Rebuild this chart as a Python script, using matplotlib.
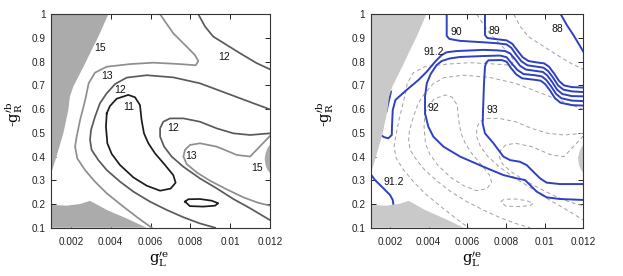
import matplotlib
matplotlib.use("Agg")
import matplotlib.pyplot as plt
from matplotlib.patches import Polygon

plt.rcParams['font.family'] = ['Liberation Sans', 'DejaVu Sans']
plt.rcParams['mathtext.fontset'] = 'dejavuserif'

# ---------------- data ----------------
x_ticks = [0.002, 0.004, 0.006, 0.008, 0.010, 0.012]
x_tick_labels = ['0.002', '0.004', '0.006', '0.008', '0.01', '0.012']
y_ticks = [0.1, 0.2, 0.3, 0.4, 0.5, 0.6, 0.7, 0.8, 0.9, 1.0]
y_tick_labels = ['0.1', '0.2', '0.3', '0.4', '0.5', '0.6', '0.7', '0.8', '0.9', '1']

# excluded regions
gray_tl_x = [0.001, 0.00388, 0.00338, 0.00304, 0.00263, 0.00212, 0.00195, 0.00187, 0.00162, 0.00137, 0.00112, 0.001]
gray_tl_y = [1.0, 1.0, 0.906, 0.849, 0.779, 0.695, 0.653, 0.596, 0.498, 0.427, 0.357, 0.329]
gray_bl_x = [0.001, 0.00179, 0.00246, 0.00296, 0.00313, 0.0038, 0.0048, 0.0058, 0.001]
gray_bl_y = [0.196, 0.193, 0.200, 0.213, 0.206, 0.175, 0.139, 0.100, 0.100]
gray_r_x = [0.012, 0.01188, 0.01178, 0.01173, 0.01178, 0.01188, 0.012]
gray_r_y = [0.450, 0.437, 0.415, 0.390, 0.362, 0.343, 0.330]

# chi^2 contours (left panel, dashed in right panel)
c11_loop_x = [0.00380, 0.00396, 0.00430, 0.00488, 0.00522, 0.00547, 0.00555, 0.00567, 0.00589, 0.00622, 0.00673,
              0.00714, 0.00726, 0.00701, 0.00648, 0.00581, 0.00514, 0.00447, 0.00405, 0.00383, 0.00376, 0.00380]
c11_loop_y = [0.582, 0.613, 0.644, 0.660, 0.650, 0.617, 0.554, 0.498, 0.456, 0.414, 0.364,
              0.322, 0.290, 0.265, 0.256, 0.277, 0.312, 0.364, 0.411, 0.456, 0.526, 0.582]
c11_small_x = [0.00773, 0.00790, 0.00848, 0.00907, 0.00940, 0.00924, 0.00865, 0.00798, 0.00773]
c11_small_y = [0.210, 0.220, 0.221, 0.214, 0.203, 0.193, 0.189, 0.191, 0.210]
c12_outer_x = [0.01200, 0.01116, 0.00982, 0.00848, 0.00714, 0.00581, 0.00480, 0.00422, 0.00380, 0.00346, 0.00321,
               0.00301, 0.00296, 0.00304, 0.00338, 0.00380, 0.00447, 0.00514, 0.00597, 0.00681, 0.00765, 0.00848, 0.00924]
c12_outer_y = [0.599, 0.625, 0.667, 0.709, 0.734, 0.743, 0.733, 0.706, 0.667, 0.625, 0.568,
               0.512, 0.470, 0.428, 0.385, 0.343, 0.294, 0.252, 0.210, 0.175, 0.144, 0.118, 0.100]
c13_outer_x = [0.00648, 0.00714, 0.00781, 0.00823, 0.00840, 0.00827, 0.00748, 0.00614, 0.00497, 0.00380, 0.00321,
               0.00289, 0.00272, 0.00246, 0.00229, 0.00221, 0.00232, 0.00271, 0.00321, 0.00380, 0.00463, 0.00547, 0.00606]
c13_outer_y = [1.000, 0.920, 0.864, 0.828, 0.803, 0.785, 0.790, 0.796, 0.790, 0.779, 0.754,
               0.709, 0.639, 0.554, 0.484, 0.442, 0.392, 0.343, 0.294, 0.245, 0.189, 0.135, 0.100]
c12_upper_x = [0.00840, 0.00874, 0.00915, 0.00982, 0.01049, 0.01133, 0.01200]
c12_upper_y = [1.000, 0.948, 0.906, 0.871, 0.836, 0.794, 0.768]
c12_inner_x = [0.01200, 0.01100, 0.01016, 0.00932, 0.00848, 0.00765, 0.00698, 0.00664, 0.00648, 0.00648,
               0.00668, 0.00706, 0.00765, 0.00848, 0.00932, 0.01016, 0.01100, 0.01158, 0.01200]
c12_inner_y = [0.498, 0.491, 0.498, 0.519, 0.547, 0.561, 0.561, 0.547, 0.519, 0.484,
               0.442, 0.400, 0.357, 0.308, 0.266, 0.221, 0.182, 0.153, 0.132]
c13_inner_x = [0.01200, 0.01100, 0.01033, 0.00932, 0.00848, 0.00798, 0.00773, 0.00765, 0.00781, 0.00832,
               0.00899, 0.00982, 0.01066, 0.01141, 0.01200]
c13_inner_y = [0.487, 0.400, 0.407, 0.442, 0.456, 0.449, 0.428, 0.400, 0.369, 0.333,
               0.298, 0.262, 0.228, 0.205, 0.193]

left_labels = ['15', '12', '13', '12', '11', '12', '13', '15']
left_label_x = [0.00346, 0.00969, 0.00380, 0.00447, 0.00488, 0.00711, 0.00803, 0.01133]
left_label_y = [0.857, 0.821, 0.740, 0.681, 0.610, 0.519, 0.402, 0.350]

# Z-pole observable contours (right panel)
b88_x = [0.01083, 0.01114, 0.01148, 0.01179, 0.01200]
b88_y = [1.000, 0.955, 0.913, 0.871, 0.842]
b89_x = [0.00691, 0.00691, 0.00703, 0.00752, 0.00803, 0.00833, 0.00859, 0.00886, 0.00916, 0.00959,
         0.00997, 0.01022, 0.01048, 0.01074, 0.01100, 0.01140, 0.01200]
b89_y = [1.000, 0.913, 0.900, 0.895, 0.890, 0.875, 0.847, 0.819, 0.803, 0.797,
         0.793, 0.779, 0.751, 0.719, 0.700, 0.693, 0.691]
b90_x = [0.00493, 0.00493, 0.00507, 0.00562, 0.00683, 0.00752, 0.00803, 0.00828, 0.00852, 0.00879,
         0.00910, 0.00959, 0.00993, 0.01017, 0.01043, 0.01069, 0.01097, 0.01140, 0.01200]
b90_y = [1.000, 0.909, 0.896, 0.888, 0.882, 0.878, 0.873, 0.858, 0.830, 0.802,
         0.785, 0.779, 0.775, 0.761, 0.733, 0.700, 0.682, 0.675, 0.672]
b912_up_x = [0.00152, 0.00169, 0.00191, 0.00209, 0.00210, 0.00214, 0.00228, 0.00286, 0.00347, 0.00390,
             0.00433, 0.00467, 0.00493, 0.00545, 0.00683, 0.00752, 0.00795, 0.00821, 0.00845, 0.00872,
             0.00903, 0.00955, 0.00990, 0.01012, 0.01038, 0.01064, 0.01091, 0.01140, 0.01200]
b912_up_y = [0.491, 0.482, 0.477, 0.491, 0.526, 0.596, 0.639, 0.681, 0.723, 0.758,
             0.800, 0.828, 0.840, 0.845, 0.850, 0.848, 0.845, 0.835, 0.812, 0.783,
             0.767, 0.761, 0.757, 0.743, 0.715, 0.682, 0.664, 0.655, 0.654]
b912_seg_x = [0.00181, 0.00205]
b912_seg_y = [0.589, 0.674]
b912_low_x = [0.00100, 0.00122, 0.00166, 0.00200, 0.00214, 0.00217]
b912_low_y = [0.326, 0.301, 0.266, 0.238, 0.217, 0.200]
b92_x = [0.01200, 0.01079, 0.01010, 0.00959, 0.00924, 0.00898, 0.00855, 0.00786, 0.00683, 0.00562,
         0.00476, 0.00424, 0.00398, 0.00381, 0.00381, 0.00390, 0.00410, 0.00441, 0.00467, 0.00510,
         0.00562, 0.00683, 0.00769, 0.00803, 0.00829, 0.00859, 0.00890, 0.00950, 0.00985, 0.01007,
         0.01033, 0.01059, 0.01086, 0.01140, 0.01200]
b92_y = [0.217, 0.221, 0.228, 0.252, 0.280, 0.301, 0.308, 0.322, 0.357, 0.400,
         0.442, 0.484, 0.526, 0.582, 0.653, 0.709, 0.748, 0.786, 0.803, 0.814,
         0.820, 0.824, 0.826, 0.819, 0.793, 0.765, 0.748, 0.743, 0.738, 0.724,
         0.696, 0.664, 0.646, 0.636, 0.634]
b93_x = [0.01200, 0.01079, 0.01010, 0.00976, 0.00941, 0.00907, 0.00872, 0.00821, 0.00786, 0.00735,
         0.00691, 0.00679, 0.00681, 0.00686, 0.00691, 0.00697, 0.00709, 0.00778, 0.00803, 0.00824,
         0.00852, 0.00883, 0.00945, 0.00979, 0.01002, 0.01028, 0.01053, 0.01081, 0.01140, 0.01200]
b93_y = [0.284, 0.284, 0.290, 0.308, 0.336, 0.364, 0.378, 0.385, 0.400, 0.456,
         0.498, 0.540, 0.596, 0.709, 0.779, 0.796, 0.806, 0.807, 0.800, 0.775,
         0.747, 0.730, 0.724, 0.720, 0.706, 0.678, 0.646, 0.627, 0.617, 0.615]

right_labels = ['90', '89', '88', '91.2', '92', '93', '91.2']
right_label_x = [0.00545, 0.00740, 0.01066, 0.00424, 0.00424, 0.00731, 0.00221]
right_label_y = [0.927, 0.931, 0.937, 0.842, 0.603, 0.596, 0.294]

# ---------------- drawing ----------------
fig = plt.figure(figsize=(6.23, 2.76), dpi=100)
axL = fig.add_axes([51 / 623, 48.3 / 276, 219 / 623, 213.4 / 276])
axR = fig.add_axes([370.7 / 623, 48.3 / 276, 212.7 / 623, 213.4 / 276])

c_black = '#1c1c1c'
c_dark = '#5a5a5a'
c_light = '#8e8e8e'

contours = [
    (c11_loop_x, c11_loop_y, c_black),
    (c11_small_x, c11_small_y, c_black),
    (c12_outer_x, c12_outer_y, c_dark),
    (c12_upper_x, c12_upper_y, c_dark),
    (c12_inner_x, c12_inner_y, c_dark),
    (c13_outer_x, c13_outer_y, c_light),
    (c13_inner_x, c13_inner_y, c_light),
]

for cx, cy, col in contours:
    axL.plot(cx, cy, color=col, lw=1.25, zorder=2, solid_joinstyle='round')
    axR.plot(cx, cy, color='#a0a0a0', lw=0.7, ls=(0, (4, 3)), zorder=2)

blue = '#2f40c0'
for bx, by in [(b88_x, b88_y), (b89_x, b89_y), (b90_x, b90_y), (b912_up_x, b912_up_y),
               (b912_seg_x, b912_seg_y), (b912_low_x, b912_low_y), (b92_x, b92_y), (b93_x, b93_y)]:
    axR.plot(bx, by, color=blue, lw=1.4, zorder=3, solid_joinstyle='round')

for ax, gcol in [(axL, '#ababab'), (axR, '#c9c9c9')]:
    for gx, gy in [(gray_tl_x, gray_tl_y), (gray_bl_x, gray_bl_y), (gray_r_x, gray_r_y)]:
        ax.add_patch(Polygon(list(zip(gx, gy)), closed=True, facecolor=gcol, edgecolor='none', zorder=4))

for t, x, y in zip(left_labels, left_label_x, left_label_y):
    axL.text(x, y, t, fontsize=7.5, ha='center', va='center', color='#111111', zorder=5)
for t, x, y in zip(right_labels, right_label_x, right_label_y):
    axR.text(x, y, t, fontsize=7.5, ha='center', va='center', color='#111111', zorder=5)

for ax in (axL, axR):
    ax.set_xlim(0.001, 0.012)
    ax.set_ylim(0.1, 1.0)
    ax.set_xticks(x_ticks)
    ax.set_xticklabels(x_tick_labels)
    ax.set_yticks(y_ticks)
    ax.set_yticklabels(y_tick_labels)
    ax.tick_params(direction='in', top=True, right=True, length=3.5, width=0.7,
                   labelsize=7.2, colors='#222222')
    ax.tick_params(axis='x', pad=6.5)
    ax.tick_params(axis='y', pad=4)
    for s in ax.spines.values():
        s.set_color('#333333')
        s.set_linewidth(0.8)
        s.set_zorder(6)

xlab = r'$\mathrm{g}^{\prime\mathrm{e}}_{\mathrm{L}}$'
ylab = r'-$\mathrm{g}^{\prime\mathrm{b}}_{\mathrm{R}}$'
fig.text(159 / 623, 1 - 259 / 276, xlab, fontsize=10.5, ha='center', va='center')
fig.text(472 / 623, 1 - 259 / 276, xlab, fontsize=10.5, ha='center', va='center')
fig.text(14 / 623, 1 - 114 / 276, ylab, fontsize=10.5, ha='center', va='center', rotation=90,
         family=['DejaVu Serif'])
fig.text(325 / 623, 1 - 114 / 276, ylab, fontsize=10.5, ha='center', va='center', rotation=90,
         family=['DejaVu Serif'])

fig.savefig('out.png', dpi=100)
